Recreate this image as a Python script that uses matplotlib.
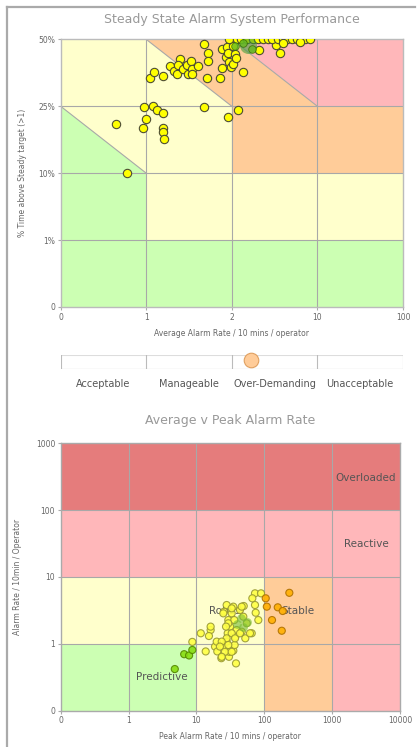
import numpy as np
import matplotlib
matplotlib.use("Agg")
import matplotlib.pyplot as plt
from matplotlib.lines import Line2D
from matplotlib.ticker import FixedLocator, FixedFormatter

# Steady state chart: average alarm rate vs % time above target
X_BREAKS = [0, 1, 2, 10, 100]
Y_BREAKS = [0, 1, 10, 25, 50]
X_TICK_LABELS = ["0", "1", "2", "10", "100"]
Y_TICK_LABELS = ["0", "1%", "10%", "25%", "50%"]

steady_rate = [0.65, 0.78, 0.96, 1.0, 0.97, 1.08, 1.13, 1.19, 1.2, 1.2, 1.21, 1.67, 1.96, 2.6,
               1.04, 1.09, 1.19, 1.28, 1.32, 1.36, 1.39, 1.37, 1.43, 1.49, 1.48, 1.52, 1.54,
               1.53, 1.61, 1.71, 1.67, 1.72, 1.72, 1.86, 1.89, 1.88, 1.94, 1.93, 1.95, 1.97,
               1.99, 2.07, 2.29, 2.38, 2.13, 1.97, 3.06, 4.56, 6.1, 6.5,
               2.48, 2.85, 3.4, 3.97, 4.44, 4.9, 5.4, 5.8, 6.3, 6.8, 7.2, 7.6, 8.1, 8.6, 8.8, 9.3,
               6.8, 8.4]
steady_pct = [21.0, 10.0, 20.2, 22.2, 24.8, 25.1, 24.2, 23.6, 20.2, 19.2, 17.7, 24.8, 22.6, 24.2,
              35.7, 37.9, 36.2, 40.1, 38.2, 37.1, 42.6, 40.4, 38.9, 37.1, 40.5, 41.9, 38.8,
              36.9, 39.9, 35.7, 48.2, 44.8, 41.9, 35.7, 39.4, 46.3, 47.3, 43.5, 44.8, 41.7,
              39.8, 40.8, 44.4, 42.9, 47.6, 50.0, 37.9, 46.0, 47.9, 44.8,
              50.0, 50.0, 50.0, 50.0, 50.0, 50.0, 50.0, 50.0, 50.0, 50.0, 50.0, 50.0, 50.0, 50.0, 50.0, 50.0,
              48.8, 49.0]
steady_green_rate = [2.3, 3.0, 3.9]
steady_green_pct = [47.5, 48.5, 46.5]
steady_avg_rate = 3.5
steady_avg_pct = 47.9

# Performance rating bar
RATING_LABELS = ["Acceptable", "Manageable", "Over-Demanding", "Unacceptable"]
rating_value = 2.22

# Average v peak chart
peak_rate = [4.8, 6.6, 7.8, 8.7, 8.7, 11.6, 13.7, 16.2, 16.2, 15.3, 18.8, 19.9, 20.3, 23.3,
             24.9, 27.9, 28.9, 30.2, 30.5, 35, 36.6, 38.3, 37.4, 31.3, 29.5, 33.1, 35, 25.5,
             27.9, 43.9, 49.8, 49.1, 55.1, 52.5, 65.3, 73, 89.5, 73, 74.7, 81.7, 66.7, 39.2,
             46.5, 24.9, 33.1, 36.1, 29.5, 27.3, 33.1, 37.1, 27.9, 23.6, 22.2, 29.5, 26.3,
             33.1, 23.6, 46.5, 43.9, 61.6,
             105, 109, 158, 187, 130, 181, 234]
avg_rate = [0.42, 0.70, 0.67, 0.81, 1.07, 1.44, 0.77, 1.61, 1.81, 1.31, 0.91, 1.08, 0.77, 0.61,
            0.91, 1.08, 1.44, 0.64, 0.76, 0.79, 0.96, 0.51, 1.28, 1.81, 2.27, 2.86, 3.6, 3.03,
            3.81, 3.21, 3.68, 2.55, 2.03, 1.21, 1.44, 5.7, 5.7, 3.81, 2.92, 2.27, 4.8, 1.61,
            1.52, 2.86, 3.4, 2.27, 2.03, 1.81, 1.44, 1.21, 1.21, 1.08, 0.91, 0.96, 0.76,
            0.76, 0.64, 3.6, 1.44, 1.44,
            4.8, 3.6, 3.52, 3.1, 2.27, 1.57, 5.8]
peak_green = [40, 48, 55, 45]
avg_green = [2.0, 1.8, 2.1, 2.4]
PEAK_TICK_LABELS = ["0", "1", "10", "100", "1000", "10000"]
AVG_TICK_LABELS = ["0", "1", "10", "100", "1000"]

GREEN = "#ccffb3"
YELLOW = "#ffffcc"
ORANGE = "#ffcc99"
PINK = "#ffb7ba"
RED = "#e57c7c"
GRID = "#a8a8a8"
TEXT = "#666666"


def seg_forward(breaks):
    pos = np.arange(len(breaks), dtype=float)
    return (lambda v: np.interp(v, breaks, pos), lambda t: np.interp(t, pos, breaks))


fig = plt.figure(figsize=(4.17, 7.47), dpi=100)

# outer frame (top and left edges)
fig.add_artist(Line2D([7 / 417, 415 / 417], [1 - 7 / 747, 1 - 7 / 747], color="#aaaaaa", lw=1.6))
fig.add_artist(Line2D([7 / 417, 7 / 417], [0, 1 - 7 / 747], color="#aaaaaa", lw=1.6))

# ---------------- top chart ----------------
ax1 = fig.add_axes([60.7 / 417, 440 / 747, 342.3 / 417, 267.6 / 747])
ax1.set_xscale("function", functions=seg_forward(X_BREAKS))
ax1.set_yscale("function", functions=seg_forward(Y_BREAKS))
ax1.set_xlim(0, 100)
ax1.set_ylim(0, 50)
ax1.set_facecolor(YELLOW)
ax1.fill([0, 100, 100, 1, 1, 0], [0, 0, 1, 1, 10, 25], color=GREEN, lw=0, zorder=0)
ax1.fill([2, 100, 100, 10, 2, 1, 2], [10, 10, 25, 25, 50, 50, 25], color=ORANGE, lw=0, zorder=0)
ax1.fill([10, 100, 100, 2], [25, 25, 50, 50], color=PINK, lw=0, zorder=0)
for xv in X_BREAKS[1:-1]:
    ax1.plot([xv, xv], [0, 50], color=GRID, lw=0.8, zorder=1)
for yv in Y_BREAKS[1:-1]:
    ax1.plot([0, 100], [yv, yv], color=GRID, lw=0.8, zorder=1)
ax1.plot([0, 1], [25, 10], color=GRID, lw=0.8, zorder=1)
ax1.plot([1, 2], [50, 25], color=GRID, lw=0.8, zorder=1)
ax1.plot([2, 10], [50, 25], color=GRID, lw=0.8, zorder=1)

ax1.scatter(steady_rate, steady_pct, s=36, color="#ffff00", edgecolor="#4d4d33", lw=0.8, zorder=3)
ax1.scatter([steady_avg_rate], [steady_avg_pct], s=150, color="#339933", alpha=0.55, lw=0, zorder=4)
ax1.scatter(steady_green_rate, steady_green_pct, s=30, color="#66bb22", edgecolor="#336600",
            lw=0.6, alpha=0.8, zorder=4)

ax1.xaxis.set_major_locator(FixedLocator(X_BREAKS))
ax1.xaxis.set_major_formatter(FixedFormatter(X_TICK_LABELS))
ax1.yaxis.set_major_locator(FixedLocator(Y_BREAKS))
ax1.yaxis.set_major_formatter(FixedFormatter(Y_TICK_LABELS))
ax1.minorticks_off()
ax1.tick_params(labelsize=5.5, labelcolor=TEXT, length=2, color="#aaaaaa", pad=2)
ax1.set_xlabel("Average Alarm Rate / 10 mins / operator", fontsize=5.5, color=TEXT, labelpad=5)
ax1.set_ylabel("% Time above Steady target (>1)", fontsize=5.5, color=TEXT, labelpad=8)
for sp in ax1.spines.values():
    sp.set_color("#bbbbbb")
    sp.set_linewidth(1.0)
ax1.set_title("Steady State Alarm System Performance", fontsize=9, color="#999999", pad=12)

# ---------------- rating bar ----------------
axr = fig.add_axes([60.7 / 417, 378 / 747, 342.3 / 417, 14 / 747])
axr.set_xlim(0, 4)
axr.set_ylim(0, 1)
axr.axis("off")
axr.plot([0, 4], [1, 1], color="#dddddd", lw=0.8)
axr.plot([0, 4], [0, 0], color="#999999", lw=0.8)
for xv in range(5):
    axr.plot([xv, xv], [-0.2, 1], color="#bbbbbb", lw=0.8)
axr.scatter([rating_value], [0.62], s=110, color=ORANGE, edgecolor="#e0a060", lw=0.8,
            zorder=3, clip_on=False)
for i, lab in enumerate(RATING_LABELS):
    axr.text(i + 0.5, -1.1, lab, ha="center", va="center", fontsize=7, color="#555555")

# ---------------- bottom chart ----------------
ax2 = fig.add_axes([60.7 / 417, 36.3 / 747, 339.3 / 417, 267.4 / 747])
ax2.set_xscale("log")
ax2.set_yscale("log")
ax2.set_xlim(0.1, 10000)
ax2.set_ylim(0.1, 1000)
ax2.set_facecolor(YELLOW)
ax2.fill([0.1, 10, 10, 0.1], [0.1, 0.1, 1, 1], color=GREEN, lw=0, zorder=0)
ax2.fill([100, 1000, 1000, 100], [0.1, 0.1, 10, 10], color=ORANGE, lw=0, zorder=0)
ax2.fill([1000, 10000, 10000, 1000], [0.1, 0.1, 10, 10], color=PINK, lw=0, zorder=0)
ax2.fill([0.1, 10000, 10000, 0.1], [10, 10, 100, 100], color=PINK, lw=0, zorder=0)
ax2.fill([0.1, 10000, 10000, 0.1], [100, 100, 1000, 1000], color=RED, lw=0, zorder=0)
for xv in [1, 10, 100, 1000]:
    ax2.plot([xv, xv], [0.1, 1000], color=GRID, lw=0.8, zorder=1)
for yv in [1, 10, 100]:
    ax2.plot([0.1, 10000], [yv, yv], color=GRID, lw=0.8, zorder=1)

ax2.text(3160, 305, "Overloaded", fontsize=7.5, color="#555555", ha="center", va="center")
ax2.text(3160, 31, "Reactive", fontsize=7.5, color="#555555", ha="center", va="center")
ax2.text(28, 3.13, "Robust", fontsize=7.5, color="#555555", ha="center", va="center", zorder=2)
ax2.text(314, 3.13, "Stable", fontsize=7.5, color="#555555", ha="center", va="center", zorder=2)
ax2.text(3.1, 0.32, "Predictive", fontsize=7.5, color="#555555", ha="center", va="center", zorder=2)

pk = np.array(peak_rate)
av = np.array(avg_rate)
face = np.where(pk > 100, "#ffb000", np.where((pk < 10) & (av < 1), "#88dd11", "#ffff44"))
edge = np.where(pk > 100, "#b07000", np.where((pk < 10) & (av < 1), "#558800", "#999933"))
ax2.scatter(pk, av, s=26, c=list(face), edgecolors=list(edge), lw=0.8, alpha=0.9, zorder=3)
ax2.scatter(peak_green, avg_green, s=40, color="#77bb33", alpha=0.6, lw=0, zorder=4)

ax2.xaxis.set_major_locator(FixedLocator([0.1, 1, 10, 100, 1000, 10000]))
ax2.xaxis.set_major_formatter(FixedFormatter(PEAK_TICK_LABELS))
ax2.yaxis.set_major_locator(FixedLocator([0.1, 1, 10, 100, 1000]))
ax2.yaxis.set_major_formatter(FixedFormatter(AVG_TICK_LABELS))
ax2.minorticks_off()
ax2.tick_params(labelsize=5.5, labelcolor=TEXT, length=2, color="#aaaaaa", pad=2)
ax2.set_xlabel("Peak Alarm Rate / 10 mins / operator", fontsize=5.5, color=TEXT, labelpad=5)
ax2.set_ylabel("Alarm Rate / 10min / Operator", fontsize=5.5, color=TEXT, labelpad=10)
for sp in ax2.spines.values():
    sp.set_color("#aaaaaa")
    sp.set_linewidth(1.0)
ax2.set_title("Average v Peak Alarm Rate", fontsize=9, color="#999999", pad=14)

fig.savefig("out.png", dpi=100)
